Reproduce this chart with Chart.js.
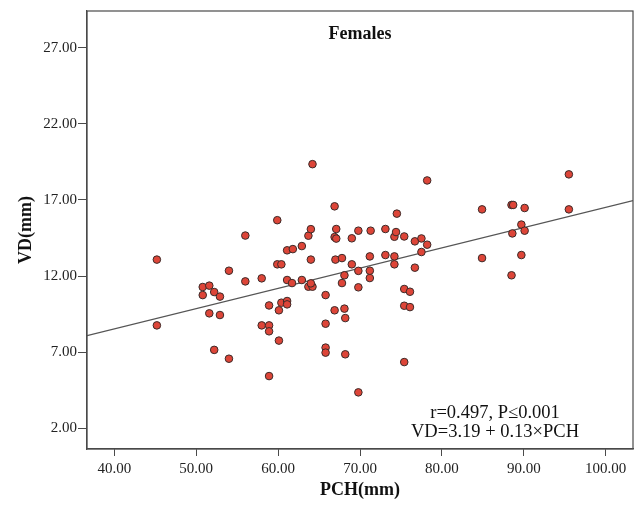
<!DOCTYPE html>
<html>
<head>
<meta charset="utf-8">
<script src="https://cdn.jsdelivr.net/npm/chart.js@4/dist/chart.umd.min.js"></script>
<style>
  html, body { margin: 0; padding: 0; background: #fff; }
  #wrap { width: 638px; height: 505px; }
</style>
</head>
<body>
<div id="wrap"><canvas id="vdChart" width="638" height="505"></canvas></div>
<script>
// PCH (x) and VD (y) values
const pchValues = [
    45.2, 45.2, 50.8, 51.6, 50.8, 52.2, 52.9, 51.6, 52.9, 52.2,
    54.0, 54.0, 56.0, 56.0, 58.0, 58.0, 58.9, 58.9, 58.9, 58.9,
    60.1, 60.1, 60.4, 61.1, 61.1, 59.9, 60.4, 59.9, 61.1, 61.7,
    62.9, 63.7, 64.2, 64.0, 64.0, 61.1, 61.8, 62.9, 63.7, 64.0,
    64.2, 65.8, 65.8, 65.8, 65.8, 66.9, 68.1, 68.2, 68.2, 69.8,
    67.8, 68.1, 69.8, 69.8, 69.0, 67.0, 67.8, 66.9, 67.1, 67.1,
    66.9, 69.0, 69.8, 71.2, 71.2, 71.2, 71.3, 73.1, 73.1, 74.2,
    74.2, 74.2, 74.4, 74.5, 75.4, 75.4, 76.1, 75.4, 76.1, 75.4,
    76.7, 76.7, 77.5, 77.5, 78.2, 78.2, 84.9, 84.9, 88.5, 88.7,
    88.6, 88.5, 89.7, 90.1, 90.1, 89.7, 95.5, 95.5
];
const vdValues = [
    13.08, 8.76, 11.28, 11.37, 10.75, 10.95, 10.65, 9.55, 9.44, 7.15,
    6.57, 12.35, 11.65, 14.66, 11.85, 8.76, 8.76, 8.37, 10.07, 5.43,
    9.75, 7.76, 10.25, 10.36, 10.14, 12.77, 12.77, 15.67, 11.74, 11.54,
    11.74, 11.30, 11.30, 11.52, 13.08, 13.69, 13.77, 13.97, 14.65, 15.08,
    19.35, 10.75, 8.87, 7.30, 6.97, 9.75, 9.86, 9.24, 6.86, 4.36,
    11.54, 12.05, 11.26, 12.34, 12.77, 13.08, 13.18, 14.56, 14.46, 15.09,
    16.58, 14.48, 14.98, 11.87, 12.35, 13.29, 14.98, 13.38, 15.09, 13.29,
    12.77, 14.58, 14.89, 16.10, 14.60, 11.15, 10.97, 10.05, 9.96, 6.35,
    12.55, 14.28, 14.47, 13.58, 14.06, 18.28, 16.38, 13.18, 16.67, 16.67,
    14.80, 12.05, 15.38, 14.98, 16.47, 13.38, 18.68, 16.38
];

// fit line end points (at the plot edges)
const fitX = [36.67, 103.33];
const fitY = [8.08, 16.95];

const xTicks = [40, 50, 60, 70, 80, 90, 100];
const yTicks = [2, 7, 12, 17, 22, 27];
const xRange = [36.67, 103.33];
const yRange = [0.64, 29.41];

const statLines = ['r=0.497, P\u22640.001', 'VD=3.19 + 0.13\u00d7PCH'];
const plotTitle = 'Females';

const serif = '"Liberation Serif", "Times New Roman", serif';

// frame around the plot plus the title and stats text
const framePlugin = {
    id: 'frameText',
    afterDraw(chart) {
        const c = chart.ctx;
        const a = chart.chartArea;
        c.save();
        c.strokeStyle = '#4a4a4a';
        c.lineWidth = 1.2;
        c.strokeRect(a.left, a.top, a.right - a.left, a.bottom - a.top);

        c.fillStyle = '#111';
        c.textAlign = 'center';
        c.textBaseline = 'middle';
        c.font = 'bold 18px ' + serif;
        c.fillText(plotTitle, (a.left + a.right) / 2, 34);

        c.font = '18.5px ' + serif;
        c.fillText(statLines[0], 495, 413);
        c.fillText(statLines[1], 495, 432);
        c.restore();
    }
};

const ctx = document.getElementById('vdChart').getContext('2d');
const vdChart = new Chart(ctx, {
    type: 'scatter',
    data: {
        datasets: [
            {
                label: 'Fit',
                type: 'line',
                data: fitX.map((x, i) => ({ x: x, y: fitY[i] })),
                borderColor: '#555',
                borderWidth: 1.2,
                pointRadius: 0,
                fill: false,
                order: 2
            },
            {
                label: 'Females',
                data: pchValues.map((x, i) => ({ x: x, y: vdValues[i] })),
                backgroundColor: '#dd4538',
                borderColor: '#3b2a28',
                borderWidth: 1,
                pointRadius: 3.8,
                order: 1
            }
        ]
    },
    options: {
        responsive: false,
        animation: false,
        layout: { padding: { top: 11, right: 4, left: 0, bottom: 0 } },
        plugins: {
            legend: { display: false },
            tooltip: { enabled: false }
        },
        scales: {
            x: {
                type: 'linear',
                min: xRange[0],
                max: xRange[1],
                afterBuildTicks: scale => { scale.ticks = xTicks.map(v => ({ value: v })); },
                afterFit: scale => { scale.height = 56; },
                grid: { drawOnChartArea: false, drawTicks: true, tickLength: 7, color: '#4a4a4a' },
                border: { display: true, color: '#4a4a4a', width: 1.2 },
                ticks: {
                    color: '#222',
                    font: { family: serif, size: 15 },
                    padding: 4,
                    maxRotation: 0,
                    callback: v => Number(v).toFixed(2)
                },
                title: {
                    display: true,
                    text: 'PCH(mm)',
                    color: '#111',
                    font: { family: serif, size: 18, weight: 'bold' },
                    padding: { top: 0, bottom: 4 }
                }
            },
            y: {
                type: 'linear',
                min: yRange[0],
                max: yRange[1],
                afterBuildTicks: scale => { scale.ticks = yTicks.map(v => ({ value: v })); },
                afterFit: scale => { scale.width = 87; },
                grid: { drawOnChartArea: false, drawTicks: true, tickLength: 9, color: '#4a4a4a' },
                border: { display: true, color: '#4a4a4a', width: 1.2 },
                ticks: {
                    color: '#222',
                    font: { family: serif, size: 15 },
                    padding: 1,
                    callback: v => Number(v).toFixed(2)
                },
                title: {
                    display: true,
                    text: 'VD(mm)',
                    color: '#111',
                    font: { family: serif, size: 18, weight: 'bold' },
                    padding: { top: 16, bottom: 0 }
                }
            }
        }
    },
    plugins: [framePlugin]
});
</script>
</body>
</html>
